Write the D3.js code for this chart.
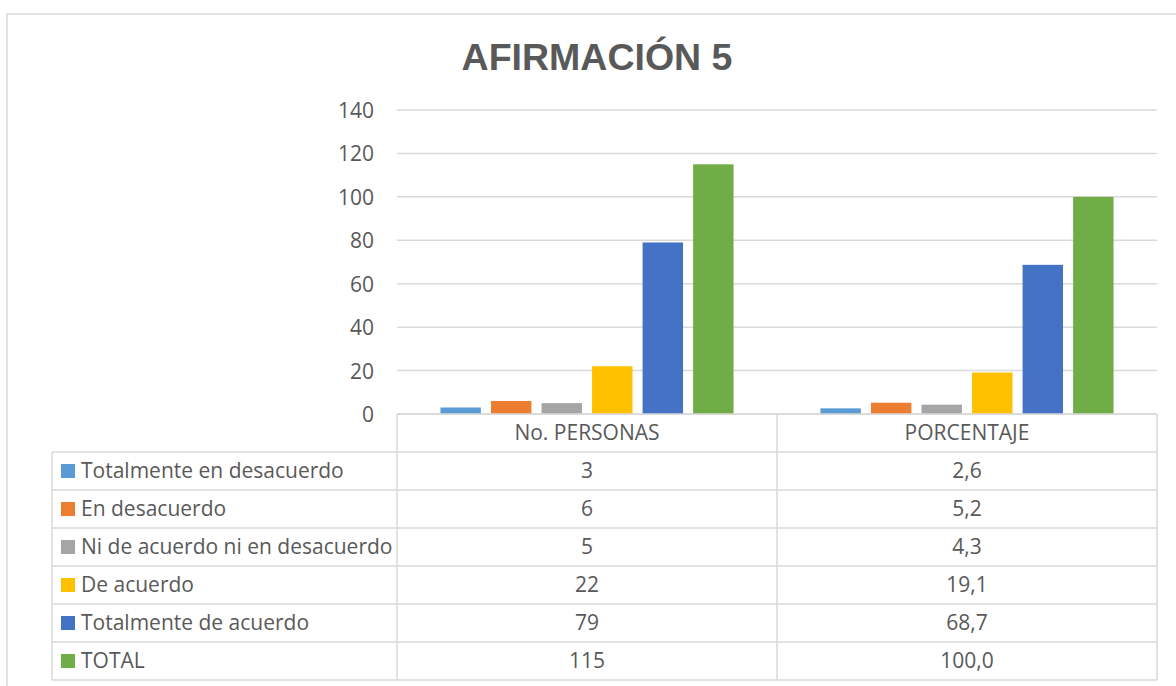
<!DOCTYPE html>
<html>
<head>
<meta charset="utf-8">
<script src="https://cdn.jsdelivr.net/npm/d3@7"></script>
<style>
  html, body { margin: 0; padding: 0; background: #fff; }
  svg { display: block; }
</style>
</head>
<body>
<svg id="chart" width="1176" height="686"></svg>
<script>
const title = "AFIRMACIÓN 5";
const categories = ["No. PERSONAS", "PORCENTAJE"];
const seriesNames = ["Totalmente en desacuerdo", "En desacuerdo", "Ni de acuerdo ni en desacuerdo", "De acuerdo", "Totalmente de acuerdo", "TOTAL"];
const personas = [3, 6, 5, 22, 79, 115];
const porcentaje = [2.6, 5.2, 4.3, 19.1, 68.7, 100.0];
const seriesColors = ["#5B9BD5", "#ED7D31", "#A5A5A5", "#FFC000", "#4472C4", "#70AD47"];
const yTicks = [0, 20, 40, 60, 80, 100, 120, 140];

const values = [personas, porcentaje];
const fmtNum = [d3.format("d"), d3.formatLocale({decimal: ",", thousands: ".", grouping: [3], currency: ["", ""]}).format(".1f")];

const svg = d3.select("#chart");
const textColor = "#595959";
const lineColor = "#D9D9D9";
const font = "'Open Sans', sans-serif";

// outer frame
svg.append("rect").attr("x", 7).attr("y", 14).attr("width", 1200).attr("height", 700)
  .attr("fill", "#fff").attr("stroke", lineColor).attr("stroke-width", 1.5);

// title
svg.append("text").attr("x", 597).attr("y", 70).attr("text-anchor", "middle")
  .attr("font-family", "'Liberation Sans', Arial, sans-serif").attr("font-weight", "bold")
  .attr("font-size", 37.5).attr("fill", textColor).text(title);

const plotLeft = 397, plotRight = 1157;
const y = d3.scaleLinear().domain([0, 140]).range([414, 110]);
const x0 = d3.scaleBand().domain(categories).range([plotLeft, plotRight]).padding(0);
const x1 = d3.scaleBand().domain(d3.range(seriesNames.length)).range([0, x0.bandwidth()])
  .paddingInner(0.2).paddingOuter(0.86);

// gridlines
svg.append("g").selectAll("line").data(yTicks).join("line")
  .attr("x1", plotLeft).attr("x2", plotRight)
  .attr("y1", d => y(d)).attr("y2", d => y(d))
  .attr("stroke", lineColor).attr("stroke-width", 1.5);

// y axis labels
const yAxis = d3.axisLeft(y).tickValues(yTicks).tickSize(0).tickPadding(0);
const gy = svg.append("g").attr("transform", `translate(374,0)`).call(yAxis);
gy.select(".domain").remove();
gy.selectAll("text").attr("font-family", font).attr("font-size", 21).attr("fill", textColor).attr("dy", "0.36em");

// bars
const groups = svg.append("g").selectAll("g").data(categories).join("g")
  .attr("transform", c => `translate(${x0(c)},0)`);
groups.selectAll("rect").data((c, ci) => values[ci].map((v, i) => ({v, i})))
  .join("rect")
  .attr("x", d => x1(d.i)).attr("width", x1.bandwidth())
  .attr("y", d => y(d.v)).attr("height", d => y(0) - y(d.v))
  .attr("fill", d => seriesColors[d.i]);

// data table
const rows = d3.scaleBand().domain(["header", ...seriesNames]).range([414, 680]);
const tableLeft = 52;
const t = svg.append("g");
const ln = (x1_, y1_, x2_, y2_) => t.append("line").attr("x1", x1_).attr("y1", y1_).attr("x2", x2_).attr("y2", y2_)
  .attr("stroke", lineColor).attr("stroke-width", 1.5);
// horizontal lines
ln(plotLeft, rows("header"), plotRight, rows("header"));
seriesNames.forEach(s => ln(tableLeft, rows(s), plotRight, rows(s)));
ln(tableLeft, rows.range()[1], plotRight, rows.range()[1]);
// vertical lines
ln(tableLeft, rows(seriesNames[0]), tableLeft, rows.range()[1]);
[plotLeft, x0(categories[1]), plotRight].forEach(xx => ln(xx, rows("header"), xx, rows.range()[1]));

const fs = 21;
// header text
t.selectAll("text.hdr").data(categories).join("text").attr("class", "hdr")
  .attr("x", c => x0(c) + x0.bandwidth() / 2).attr("y", rows("header") + rows.bandwidth() / 2)
  .attr("dy", "0.33em").attr("text-anchor", "middle")
  .attr("font-family", font).attr("font-size", fs).attr("fill", textColor).text(c => c);

// legend keys and labels
seriesNames.forEach((s, i) => {
  const cy = rows(s) + rows.bandwidth() / 2;
  t.append("rect").attr("x", 61).attr("y", cy - 7).attr("width", 14).attr("height", 14).attr("fill", seriesColors[i]);
  t.append("text").attr("x", 81).attr("y", cy).attr("dy", "0.33em")
    .attr("font-family", font).attr("font-size", fs).attr("fill", textColor).text(s);
  categories.forEach((c, ci) => {
    t.append("text").attr("x", x0(c) + x0.bandwidth() / 2).attr("y", cy).attr("dy", "0.33em")
      .attr("text-anchor", "middle").attr("font-family", font).attr("font-size", fs)
      .attr("fill", textColor).text(fmtNum[ci](values[ci][i]));
  });
});
</script>
</body>
</html>
